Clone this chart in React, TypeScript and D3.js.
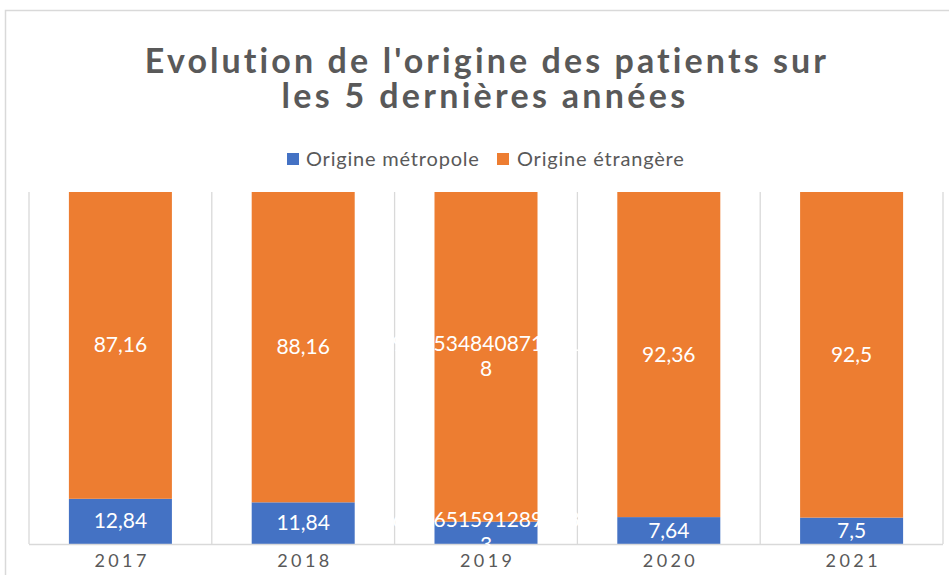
import React from "react";
import * as d3 from "d3";

const years = ["2017", "2018", "2019", "2020", "2021"];
const metropole = [12.84, 11.84, 6.34651591289283, 7.64, 7.5];
const etrangere = [87.16, 88.16, 93.65348408710718, 92.36, 92.5];
const metropoleLabels = ["12,84", "11,84", "6,34651591289283\n3", "7,64", "7,5"];
const etrangereLabels = ["87,16", "88,16", "93,6534840871071\n8", "92,36", "92,5"];
const seriesNames = ["Origine métropole", "Origine étrangère"];
const colors = ["#4472C4", "#ED7D31"];

const W = 949;
const H = 575;
const plot = { left: 29, right: 943, top: 192, bottom: 544 };
const FONT = "Lato, 'Open Sans', sans-serif";
const GREY = "#595959";

export default function App() {
  const x = d3
    .scaleBand<string>()
    .domain(years)
    .range([plot.left, plot.right])
    .paddingInner(0.4365)
    .paddingOuter(0.4365 / 2);
  const y = d3.scaleLinear().domain([0, 100]).range([plot.bottom, plot.top]);
  const step = x.step();
  const bw = x.bandwidth();

  const rows = years.map((yr, i) => ({ year: yr, m: metropole[i], e: etrangere[i] }));
  const stack = d3.stack<any>().keys(["m", "e"]).offset(d3.stackOffsetExpand);
  const series = stack(rows);
  const labels = [metropoleLabels, etrangereLabels];

  const boundaries = d3.range(years.length + 1).map((i) => plot.left + i * step);

  return (
    <svg
      width={W}
      height={H}
      style={{ position: "absolute", left: 0, top: 0, background: "#fff" }}
      fontFamily={FONT}
    >
      <rect x={0} y={0} width={W} height={H} fill="#fff" />
      {/* outer chart border */}
      <path d={`M5.5,${H + 5} V10.5 H${W + 5}`} fill="none" stroke="#d9d9d9" strokeWidth={1.5} />

      {/* title */}
      <text x={487} y={73} textAnchor="middle" fontSize={34} fontWeight={700} fill={GREY} letterSpacing={3.1}>
        Evolution de l'origine des patients sur
      </text>
      <text x={485} y={108} textAnchor="middle" fontSize={34} fontWeight={700} fill={GREY} letterSpacing={3.3}>
        les 5 dernières années
      </text>

      {/* legend */}
      <g>
        <rect x={287} y={153} width={12} height={12} fill={colors[0]} />
        <text x={306} y={166} fontSize={20} fill={GREY} letterSpacing={0.8}>{seriesNames[0]}</text>
        <rect x={497} y={153} width={12} height={12} fill={colors[1]} />
        <text x={517} y={166} fontSize={20} fill={GREY} letterSpacing={0.8}>{seriesNames[1]}</text>
      </g>

      {/* vertical category gridlines */}
      {boundaries.map((bx, i) => (
        <line key={i} x1={bx} x2={bx} y1={plot.top} y2={plot.bottom} stroke="#d9d9d9" strokeWidth={1.3} />
      ))}

      {/* bars */}
      {series.map((s, si) => (
        <g key={si}>
          {s.map((d: any, i: number) => (
            <rect
              key={i}
              x={x(years[i])}
              y={y(d[1] * 100)}
              width={bw}
              height={y(d[0] * 100) - y(d[1] * 100)}
              fill={colors[si]}
            />
          ))}
        </g>
      ))}

      {/* axis line */}
      <line x1={plot.left} x2={plot.right} y1={plot.bottom + 0.5} y2={plot.bottom + 0.5} stroke="#d9d9d9" strokeWidth={1.3} />

      {/* data labels */}
      {series.map((s, si) => (
        <g key={"l" + si}>
          {s.map((d: any, i: number) => {
            const cx = (x(years[i]) as number) + bw / 2;
            const cy = (y(d[0] * 100) + y(d[1] * 100)) / 2;
            const lines = labels[si][i].split("\n");
            const lh = 25;
            return (
              <text key={i} x={cx} textAnchor="middle" fontSize={21} fill="#fff">
                {lines.map((ln, li) => (
                  <tspan key={li} x={cx} y={cy + (li - (lines.length - 1) / 2) * lh + 7}>
                    {ln}
                  </tspan>
                ))}
              </text>
            );
          })}
        </g>
      ))}

      {/* x axis labels */}
      {years.map((yr) => (
        <text
          key={yr}
          x={(x(yr) as number) + bw / 2 + 1.7}
          y={567}
          textAnchor="middle"
          fontSize={18}
          fill={GREY}
          letterSpacing={3.4}
        >
          {yr}
        </text>
      ))}
    </svg>
  );
}
